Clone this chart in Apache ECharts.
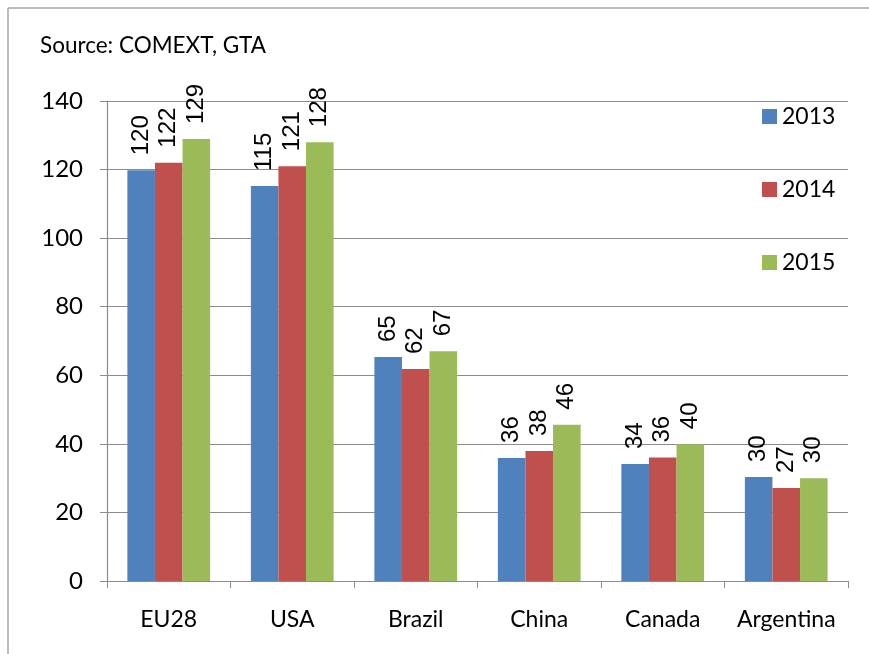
<!DOCTYPE html>
<html>
<head>
<meta charset="utf-8">
<script src="https://cdn.jsdelivr.net/npm/echarts@6/dist/echarts.min.js"></script>
<style>html,body{margin:0;padding:0;background:#fff;overflow:hidden;}#c{width:869px;height:654px;}</style>
</head>
<body>
<div id="c"></div>
<script>
var categories = ['EU28', 'USA', 'Brazil', 'China', 'Canada', 'Argentina'];
var seriesNames = ['2013', '2014', '2015'];
var v2013 = [119.8, 115.2, 65.3, 35.9, 34.1, 30.3];
var v2014 = [122, 121, 61.8, 37.9, 36, 27.1];
var v2015 = [128.9, 128, 67, 45.6, 39.9, 30];
var colors = ['#4f81bd', '#c0504d', '#9bbb59'];
var yTicks = [0, 20, 40, 60, 80, 100, 120, 140];

var chart = echarts.init(document.getElementById('c'));
function mk(name, data, color) {
  return {
    name: name, type: 'bar', data: data, barGap: '0%', barCategoryGap: '33%',
    itemStyle: { color: color },
    label: {
      show: true, position: 'top', rotate: 90, align: 'left', verticalAlign: 'middle',
      distance: 15, fontFamily: 'Liberation Sans', fontSize: 24, color: '#000',
      formatter: function (p) { return Math.round(p.value); }
    }
  };
}
chart.setOption({
  animation: false,
  textStyle: { fontFamily: 'Lato' },
  graphic: [
    { type: 'line', shape: { x1: 8, y1: 8, x2: 1000, y2: 8 }, style: { stroke: '#a6a6a6', lineWidth: 1.5 } },
    { type: 'line', shape: { x1: 8, y1: 8, x2: 8, y2: 1000 }, style: { stroke: '#a6a6a6', lineWidth: 1.5 } },
    { type: 'text', left: 40, top: 34, style: { text: 'Source: COMEXT, GTA', font: '22.5px Lato', fill: '#000' } }
  ],
  grid: { left: 107, right: 21, top: 101, bottom: 73, containLabel: false },
  legend: {
    orient: 'vertical', left: 757, top: 100, itemWidth: 15, itemHeight: 15, itemGap: 50,
    textStyle: { fontFamily: 'Lato', fontSize: 23, color: '#000' },
    data: seriesNames.map(function (n, i) { return { name: n, icon: 'rect', itemStyle: { color: colors[i] } }; })
  },
  xAxis: {
    type: 'category', data: categories,
    axisLine: { lineStyle: { color: '#8c8c8c', width: 1.2 } },
    axisTick: { show: true, length: 7, lineStyle: { color: '#8c8c8c' } },
    axisLabel: { interval: 0, hideOverlap: false, fontFamily: 'Lato', fontSize: 23, color: '#000', margin: 27 }
  },
  yAxis: {
    type: 'value', min: 0, max: 140, interval: 20,
    axisLine: { show: true, lineStyle: { color: '#8c8c8c', width: 1.2 } },
    axisTick: { show: true, length: 7, lineStyle: { color: '#8c8c8c' } },
    axisLabel: { fontFamily: 'Lato', fontSize: 24, color: '#000', margin: 24,
      formatter: function (v) { return yTicks.indexOf(v) >= 0 ? String(v) : ''; } },
    splitLine: { show: true, lineStyle: { color: '#8c8c8c', width: 1.2 } }
  },
  series: [mk(seriesNames[0], v2013, colors[0]), mk(seriesNames[1], v2014, colors[1]), mk(seriesNames[2], v2015, colors[2])]
});
</script>
</body>
</html>
